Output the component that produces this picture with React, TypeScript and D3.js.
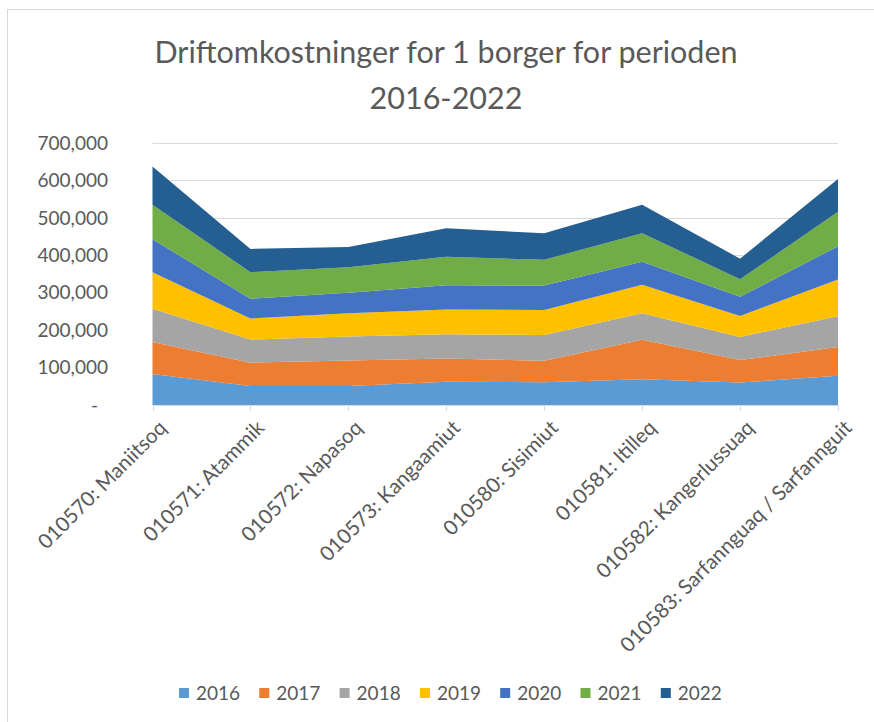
import React, { useEffect, useRef } from "react";
import * as d3 from "d3";

const categories = [
  "010570: Maniitsoq",
  "010571: Atammik",
  "010572: Napasoq",
  "010573: Kangaamiut",
  "010580: Sisimiut",
  "010581: Itilleq",
  "010582: Kangerlussuaq",
  "010583: Sarfannguaq / Sarfannguit",
];

const years = ["2016", "2017", "2018", "2019", "2020", "2021", "2022"];

const v2016 = [83000, 51000, 51000, 62000, 61000, 69000, 60000, 78000];
const v2017 = [85000, 62000, 68000, 62000, 57000, 105000, 60000, 77000];
const v2018 = [89000, 62000, 64000, 65000, 69000, 71000, 62000, 82000];
const v2019 = [98000, 56000, 62000, 66000, 67000, 76000, 56000, 98000];
const v2020 = [88000, 53000, 55000, 65000, 65000, 62000, 51000, 89000];
const v2021 = [92000, 71000, 68000, 76000, 69000, 76000, 47000, 92000];
const v2022 = [102000, 62000, 54000, 76000, 71000, 76000, 55000, 88000];

const yTicks = [0, 100000, 200000, 300000, 400000, 500000, 600000, 700000];

const colors = ["#5B9BD5", "#ED7D31", "#A5A5A5", "#FFC000", "#4472C4", "#70AD47", "#255E91"];

const App = () => {
  const ref = useRef<SVGSVGElement>(null);

  useEffect(() => {
    const width = 874;
    const height = 722;
    const font = "Lato, 'Open Sans', sans-serif";
    const textColor = "#595959";

    const svg = d3.select(ref.current).attr("width", width).attr("height", height);
    svg.selectAll("*").remove();

    // table for the stack
    const series = [v2016, v2017, v2018, v2019, v2020, v2021, v2022];
    const table = categories.map((c, i) => {
      const row: any = { cat: c };
      years.forEach((y, j) => (row[y] = series[j][i]));
      return row;
    });

    const x = d3.scalePoint().domain(categories).range([152.5, 838]);
    const y = d3.scaleLinear().domain([0, 700000]).range([405, 143]);

    // chart frame (only top and left edges are visible in the crop)
    svg.append("rect")
      .attr("x", 7.5).attr("y", 9.5)
      .attr("width", 1000).attr("height", 1000)
      .attr("fill", "#fff").attr("stroke", "#d9d9d9");

    // title
    const title = svg.append("text")
      .attr("text-anchor", "middle")
      .attr("font-family", font)
      .attr("font-size", 30.5)
      .attr("fill", textColor);
    title.append("tspan").attr("x", 446).attr("y", 63).text("Driftomkostninger for 1 borger for perioden");
    title.append("tspan").attr("x", 446).attr("y", 109).text("2016-2022");

    // gridlines
    svg.append("g")
      .selectAll("line")
      .data(yTicks.filter((t) => t > 0))
      .enter()
      .append("line")
      .attr("x1", x.range()[0]).attr("x2", x.range()[1])
      .attr("y1", (d) => Math.round(y(d)) + 0.5)
      .attr("y2", (d) => Math.round(y(d)) + 0.5)
      .attr("stroke", "#d9d9d9");

    // stacked areas
    const stack = d3.stack().keys(years);
    const layers = stack(table);
    const area = d3.area<any>()
      .x((d) => x(d.data.cat) as number)
      .y0((d) => y(d[0]))
      .y1((d) => y(d[1]));

    svg.append("g")
      .selectAll("path")
      .data(layers)
      .enter()
      .append("path")
      .attr("d", area)
      .attr("fill", (d, i) => colors[i]);

    // x axis line + ticks
    svg.append("line")
      .attr("x1", x.range()[0]).attr("x2", x.range()[1])
      .attr("y1", 405.5).attr("y2", 405.5)
      .attr("stroke", "#d9d9d9");
    svg.append("g")
      .selectAll("line")
      .data(categories)
      .enter()
      .append("line")
      .attr("x1", (d) => Math.round(x(d) as number) + 0.5)
      .attr("x2", (d) => Math.round(x(d) as number) + 0.5)
      .attr("y1", 405).attr("y2", 411)
      .attr("stroke", "#d9d9d9");

    // x labels
    svg.append("g")
      .selectAll("text")
      .data(categories)
      .enter()
      .append("text")
      .attr("transform", (d) => "translate(" + ((x(d) as number) + 5) + ",419) rotate(-45)")
      .attr("text-anchor", "end")
      .attr("dy", "0.7em")
      .attr("font-family", font)
      .attr("font-size", 20.5)
      .attr("fill", textColor)
      .text((d) => d);

    // y labels
    svg.append("g")
      .selectAll("text")
      .data(yTicks)
      .enter()
      .append("text")
      .attr("x", (d) => (d === 0 ? 98 : 108))
      .attr("y", (d) => y(d))
      .attr("dy", "0.35em")
      .attr("text-anchor", "end")
      .attr("font-family", font)
      .attr("font-size", 19)
      .attr("fill", textColor)
      .text((d) => (d === 0 ? "-" : d3.format(",")(d)));

    // legend
    const legend = svg.append("g")
      .selectAll("g")
      .data(years)
      .enter()
      .append("g")
      .attr("transform", (d, i) => "translate(" + (179 + i * 80.3) + ",688)");
    legend.append("rect")
      .attr("width", 10).attr("height", 10)
      .attr("fill", (d, i) => colors[i]);
    legend.append("text")
      .attr("x", 17).attr("y", 12)
      .attr("font-family", font)
      .attr("font-size", 19)
      .attr("fill", textColor)
      .text((d) => d);
  }, []);

  return (
    <div style={{ position: "absolute", left: 0, top: 0 }}>
      <svg ref={ref} style={{ display: "block" }}></svg>
    </div>
  );
};

export default App;
